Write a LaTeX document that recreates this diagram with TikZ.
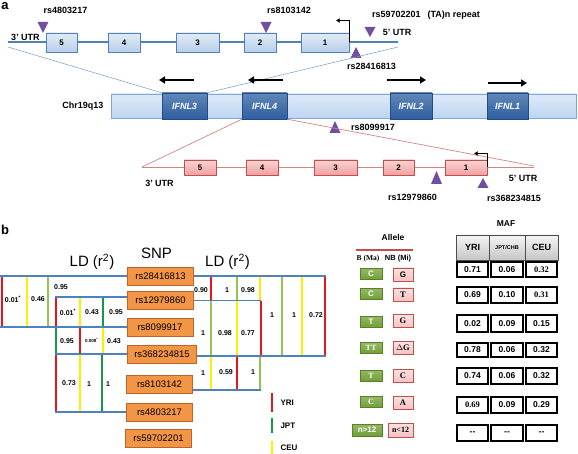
\documentclass[tikz,border=0pt]{standalone}
\usepackage{fontspec}
\setmainfont{Liberation Sans}
\newfontfamily\tnr{Liberation Serif}
\usetikzlibrary{calc, shapes, backgrounds, arrows.meta}
\definecolor{genblue}{RGB}{79,129,189}
\definecolor{exonfill}{RGB}{184,206,234}
\definecolor{chromfill}{RGB}{190,213,242}
\definecolor{ifnlblue}{RGB}{45,95,160}
\definecolor{pinkfill}{RGB}{242,160,160}
\definecolor{pinkedge}{RGB}{192,80,77}
\definecolor{snppurple}{RGB}{112,78,160}
\definecolor{snporange}{RGB}{242,150,70}
\definecolor{snpedge}{RGB}{190,100,40}
\definecolor{majorgreen}{RGB}{112,160,52}
\definecolor{yricol}{RGB}{232,20,30}
\definecolor{jptcol}{RGB}{25,150,70}
\definecolor{limecol}{RGB}{145,198,80}
\definecolor{ceucol}{RGB}{255,238,0}

\begin{document}
\begin{tikzpicture}[x=1pt, y=-1pt, font=\bfseries\fontsize{9}{10}\selectfont]
	\tikzstyle{exon}=[rectangle, draw=genblue, thin, top color=white!60!exonfill,
	bottom color=exonfill, minimum height=19pt, inner sep=0pt,
	font=\bfseries\fontsize{8}{9}\selectfont]
	\tikzstyle{pexon}=[rectangle, draw=pinkedge, thin, top color=white!55!pinkfill,
	bottom color=pinkfill, minimum height=15pt, inner sep=0pt,
	font=\bfseries\fontsize{8}{9}\selectfont]
	\tikzstyle{chrom}=[rectangle, draw=genblue!70, thin, top color=white!50!chromfill,
	bottom color=chromfill, minimum width=465pt, minimum height=24pt]
	\tikzstyle{ifnl}=[rectangle, draw=ifnlblue!80!black, thin, top color=ifnlblue!75,
	bottom color=ifnlblue, text=white, minimum height=26pt, inner sep=0pt,
	font=\bfseries\itshape\fontsize{9}{10}\selectfont]
	\tikzstyle{geneline}=[line width=1.8pt, genblue]
	\tikzstyle{pinkline}=[line width=0.7pt, pinkedge!70]
	\tikzstyle{zoomline}=[line width=0.5pt]
	\tikzstyle{genearrow}=[line width=2.2pt, -{Triangle[length=6pt,width=7pt]}]
	\tikzstyle{tss}=[line width=1.1pt, -{Triangle[length=3.5pt,width=4.5pt]}]
	\tikzstyle{marker}=[fill=snppurple]
	\tikzstyle{snp}=[rectangle, draw=snpedge, fill=snporange, line width=0.8pt,
	minimum width=66pt, minimum height=18pt, inner xsep=7pt,
	font=\normalfont\fontsize{9.5}{10}\selectfont]
	\tikzstyle{ldline}=[line width=1.5pt, genblue]
	\tikzstyle{yri}=[line width=2.4pt, yricol]
	\tikzstyle{jpt}=[line width=2.4pt, jptcol]
	\tikzstyle{jptl}=[line width=2.4pt, limecol]
	\tikzstyle{ceu}=[line width=2.4pt, ceucol]
	\tikzstyle{ld}=[inner sep=0pt, font=\bfseries\fontsize{7}{8}\selectfont]
	\tikzstyle{major}=[rectangle, draw=majorgreen!80!black, top color=majorgreen!75,
	bottom color=majorgreen, text=white, minimum width=22pt, minimum height=11pt,
	inner sep=0pt, font=\bfseries\fontsize{8}{9}\selectfont]
	\tikzstyle{minor}=[rectangle, draw=pinkedge, thin, top color=white!70!pinkfill,
	bottom color=white!35!pinkfill, minimum width=20pt, minimum height=13pt,
	inner sep=0pt, font=\bfseries\fontsize{8}{9}\selectfont]
	\tikzstyle{mafhead}=[rectangle, draw=gray!60!black, thin, top color=gray!8,
	bottom color=gray!45, minimum height=25pt, inner sep=0pt]
	\tikzstyle{maf}=[rectangle, draw, line width=1.2pt, fill=white, minimum height=15pt,
	inner sep=0pt, font=\bfseries\fontsize{8.5}{9}\selectfont]
	
	\useasboundingbox (0,0) rectangle (578,454);
	
	% panel a
	\node[font=\bfseries\fontsize{13}{13}\selectfont] at (5,6.5) (pa) {a};
	\draw[geneline] (8,42) -- (398,42);
	\node[exon, minimum width=31pt] at (61.5,42.5) (ex5) {5};
	\node[exon, minimum width=32pt] at (124,42.5) (ex4) {4};
	\node[exon, minimum width=43pt] at (197.5,42.5) (ex3) {3};
	\node[exon, minimum width=32pt] at (260,42.5) (ex2) {2};
	\node[exon, minimum width=48pt] at (325,42.5) (ex1) {1};
	\draw[tss] (ex1.east) |- ++(-13,-22);
	\node at (25.5,37) (utr3top) {3' UTR};
	\node at (397,32) (utr5top) {5' UTR};
	\fill[marker] (43,33) -- (37.5,22) -- (48.5,22) -- cycle;
	\fill[marker] (266,33) -- (260.5,22) -- (271.5,22) -- cycle;
	\fill[marker] (370,37) -- (364.5,27) -- (375.5,27) -- cycle;
	\fill[marker] (356,47) -- (350.5,58) -- (361.5,58) -- cycle;
	\node at (65.5,10) (lab4803) {rs4803217};
	\node at (289,10) (lab8103) {rs8103142};
	\node at (426,15) (labta) {rs59702201\hspace{7pt}(TA)n repeat};
	\node at (371.5,66) (lab2841) {rs28416813};
	
	\node[chrom] at (343.5,106) (chr) {};
	\node[ifnl, minimum width=45pt] at (184.5,106) (ifnl3) {IFNL3};
	\node[ifnl, minimum width=45pt] at (264.5,106) (ifnl4) {IFNL4};
	\node[ifnl, minimum width=42pt] at (411,106) (ifnl2) {IFNL2};
	\node[ifnl, minimum width=41pt] at (507.5,106) (ifnl1) {IFNL1};
	\node[anchor=east] at (107,106) (chrlab) {Chr19q13};
	\coordinate (topL) at (8,47);
	\coordinate (topR) at (398,47);
	\draw[zoomline, genblue!80] (ifnl3.north west) -- (topL);
	\draw[zoomline, genblue!80] (ifnl3.north east) -- (topR);
	\draw[genearrow] (194,80) -- (159,80);
	\draw[genearrow] (283,80) -- (248,80);
	\draw[genearrow] (387,80) -- (426,80);
	\draw[genearrow] (488,83) -- (527,83);
	\fill[marker] (335,121) -- (329.5,133) -- (340.5,133) -- cycle;
	\node at (373,127) (lab8099) {rs8099917};
	
	\coordinate (botL) at (142,167);
	\coordinate (botR) at (534,166);
	\draw[pinkline] (ifnl4.south west) -- (botL);
	\draw[pinkline] (ifnl4.south east) -- (botR);
	\draw[pinkline] (botL) -- (534,167);
	\node[pexon, minimum width=32pt] at (200,167.5) (pex5) {5};
	\node[pexon, minimum width=31.5pt] at (262,167.5) (pex4) {4};
	\node[pexon, minimum width=43pt] at (335.5,167.5) (pex3) {3};
	\node[pexon, minimum width=31pt] at (398.5,167.5) (pex2) {2};
	\node[pexon, minimum width=42pt] at (466,167.5) (pex1) {1};
	\draw[tss] (pex1.east) |- ++(-13,-14);
	\node at (159.5,183) (utr3bot) {3' UTR};
	\node at (523,178) (utr5bot) {5' UTR};
	\fill[marker] (436.5,171) -- (431,184) -- (442,184) -- cycle;
	\fill[marker] (483,178) -- (477.5,188) -- (488.5,188) -- cycle;
	\node at (412.5,197) (lab1297) {rs12979860};
	\node at (514,198) (lab3682) {rs368234815};
	
	% panel b
	\node[font=\bfseries\fontsize{13}{13}\selectfont] at (5,230) (pb) {b};
	\node[font=\normalfont\fontsize{15}{16}\selectfont] at (92,262) (ldleft) {LD (r\textsuperscript{2})};
	\node[font=\normalfont\fontsize{15}{16}\selectfont] at (156.5,253) (snphead) {SNP};
	\node[font=\normalfont\fontsize{15}{16}\selectfont] at (227.5,262) (ldright) {LD (r\textsuperscript{2})};
	
	\node[snp] at (160.5,276) (snp1) {rs28416813};
	\node[snp] at (160.5,300.5) (snp2) {rs12979860};
	\node[snp] at (160,327) (snp3) {rs8099917};
	\node[snp] at (162,354) (snp4) {rs368234815};
	\node[snp] at (159.5,384) (snp5) {rs8103142};
	\node[snp] at (159.5,412) (snp6) {rs4803217};
	\node[snp] at (158.5,438.5) (snp7) {rs59702201};
	
	% left LD
	\coordinate (ldL) at (0,0);
	\coordinate (ldM) at (55,0);
	\draw[yri] (2,276) -- (2,327);
	\draw[ceu] (27,276) -- (27,327);
	\draw[jptl] (48,276) -- (48,327);
	\draw[yri] (56,297) -- (56,327);
	\draw[ceu] (80,297) -- (80,327);
	\draw[jpt] (103,297) -- (103,327);
	\draw[jpt] (56,327) -- (56,354);
	\draw[yri] (80,327) -- (80,354);
	\draw[ceu] (103,327) -- (103,354);
	\draw[yri] (56,354) -- (56,412);
	\draw[ceu] (80,354) -- (80,412);
	\draw[jpt] (102,354) -- (102,412);
	\draw[ldline] (snp1.west) -- (snp1.west -| ldL);
	\draw[ldline] (snp3.west) -- (snp3.west -| ldL);
	\draw[ldline] ([yshift=3.5pt]snp2.west) -- ([yshift=3.5pt]snp2.west -| ldM);
	\draw[ldline] (snp4.west) -- (snp4.west -| ldM);
	\draw[ldline] (snp6.west) -- (snp6.west -| ldM);
	\node[ld] at (13,299) (v1) {0.01\textsuperscript{*}};
	\node[ld] at (38,299) (v2) {0.46};
	\node[ld] at (61,287) (v3) {0.95};
	\node[ld] at (68,312) (v4) {0.01\textsuperscript{*}};
	\node[ld] at (92,312) (v5) {0.43};
	\node[ld] at (116,312) (v6) {0.95};
	\node[ld] at (67,341) (v7) {0.95};
	\node[ld, font=\bfseries\fontsize{4.5}{5}\selectfont] at (91.5,340) (v8) {0.008\textsuperscript{*}};
	\node[ld] at (114,341) (v9) {0.43};
	\node[ld] at (69,383) (v10) {0.73};
	\node[ld] at (89,384) (v11) {1};
	\node[ld] at (108,384) (v12) {1};
	
	% right LD
	\coordinate (ldR) at (326,0);
	\coordinate (ldS) at (261,0);
	\draw[yri] (211,276) -- (211,301);
	\draw[jptl] (237,276) -- (237,301);
	\draw[ceu] (260,276) -- (260,301);
	\draw[jptl] (211,301) -- (211,356);
	\draw[ceu] (237,301) -- (237,356);
	\draw[yri] (261,301) -- (261,356);
	\draw[jptl] (282,276) -- (282,356);
	\draw[ceu] (302,276) -- (302,356);
	\draw[yri] (325,276) -- (325,356);
	\draw[ceu] (211,356) -- (211,390);
	\draw[yri] (237,356) -- (237,390);
	\draw[jptl] (260,356) -- (260,390);
	\draw[ldline] (snp1.east) -- (snp1.east -| ldR);
	\draw[ldline] (snp2.east) -- (snp2.east -| ldS);
	\draw[ldline] ([yshift=-2pt]snp4.east) -- ([yshift=-2pt]snp4.east -| ldR);
	\draw[ldline] ([yshift=-6pt]snp5.east) -- ([yshift=-6pt]snp5.east -| ldS);
	\node[ld] at (201,290) (w1) {0.90};
	\node[ld] at (227,290) (w2) {1};
	\node[ld] at (248,290) (w3) {0.98};
	\node[ld] at (203,333) (w4) {1};
	\node[ld] at (225,333) (w5) {0.98};
	\node[ld] at (248,333) (w6) {0.77};
	\node[ld] at (272,315) (w7) {1};
	\node[ld] at (294,315) (w8) {1};
	\node[ld] at (316,315) (w9) {0.72};
	\node[ld] at (203,373) (w10) {1};
	\node[ld] at (226,372) (w11) {0.59};
	\node[ld] at (253,372) (w12) {1};
	
	% legend
	\draw[yri] (272,393) -- (272,412);
	\draw[jpt] (272,418) -- (272,433);
	\draw[ceu] (272,441) -- (272,454);
	\node[anchor=west, font=\bfseries\fontsize{8}{9}\selectfont] at (277,403) (legyri) {YRI};
	\node[anchor=west, font=\bfseries\fontsize{8}{9}\selectfont] at (277,426) (legjpt) {JPT};
	\node[anchor=west, font=\bfseries\fontsize{8}{9}\selectfont] at (277,448) (legceu) {CEU};
	
	% alleles
	\node[font=\bfseries\fontsize{8.5}{9}\selectfont] at (393,237) (allele) {Allele};
	\draw[line width=1.6pt, pinkedge] (356,250) -- (413,250);
	\node[font=\tnr\bfseries\fontsize{7.5}{8}\selectfont] at (368,259) (bma) {B (Ma)};
	\node[font=\bfseries\fontsize{7.5}{8}\selectfont] at (398,259) (nbmi) {NB (Mi)};
	\node[major] at (371,274) (b1) {C};
	\node[major] at (371,294) (b2) {C};
	\node[major] at (371,321.5) (b3) {T};
	\node[major, font=\tnr\bfseries\fontsize{8}{9}\selectfont] at (371,348) (b4) {TT};
	\node[major, font=\tnr\bfseries\fontsize{8}{9}\selectfont] at (371,375.5) (b5) {T};
	\node[major, font=\tnr\bfseries\fontsize{8}{9}\selectfont] at (371,402) (b6) {C};
	\node[major, minimum width=30pt, minimum height=12pt] at (367,430) (b7) {n>12};
	\node[minor] at (403,274.5) (nb1) {G};
	\node[minor, font=\tnr\bfseries\fontsize{8.5}{9}\selectfont] at (403,294.5) (nb2) {T};
	\node[minor, font=\tnr\bfseries\fontsize{8.5}{9}\selectfont] at (403,321) (nb3) {G};
	\node[minor, font=\tnr\bfseries\fontsize{8.5}{9}\selectfont] at (403,348) (nb4) {$\Delta$G};
	\node[minor, font=\tnr\bfseries\fontsize{8.5}{9}\selectfont] at (403,375.5) (nb5) {C};
	\node[minor, font=\tnr\bfseries\fontsize{8.5}{9}\selectfont] at (403,402.5) (nb6) {A};
	\node[minor, minimum width=25pt, minimum height=14pt, font=\tnr\bfseries\fontsize{8}{9}\selectfont] at (400.5,430) (nb7) {n<12};
	
	% MAF table
	\node[font=\bfseries\fontsize{8.5}{9}\selectfont] at (506,224) (maf) {MAF};
	\node[mafhead, minimum width=33pt, font=\bfseries\fontsize{9}{10}\selectfont] at (472.5,247.5) (hyri) {YRI};
	\node[mafhead, minimum width=36pt, font=\bfseries\fontsize{5.5}{6}\selectfont] at (507,247.5) (hjpt) {JPT/CHB};
	\node[mafhead, minimum width=33pt, font=\bfseries\fontsize{9}{10}\selectfont] at (541.5,247.5) (hceu) {CEU};
	
	\node[maf, minimum width=31pt] at (472.5,269.5) (m11) {0.71};
	\node[maf, minimum width=32pt] at (507,269.5) (m12) {0.06};
	\node[maf, minimum width=31pt, font=\tnr\bfseries\fontsize{8.5}{9}\selectfont] at (541.5,269.5) (m13) {0.32};
	\node[maf, minimum width=31pt, minimum height=16pt] at (472.5,295) (m21) {0.69};
	\node[maf, minimum width=32pt, minimum height=16pt] at (507,295) (m22) {0.10};
	\node[maf, minimum width=31pt, minimum height=16pt, font=\tnr\bfseries\fontsize{8.5}{9}\selectfont] at (541.5,295) (m23) {0.31};
	\node[maf, minimum width=31pt, minimum height=17pt] at (472.5,323.5) (m31) {0.02};
	\node[maf, minimum width=32pt, minimum height=17pt] at (507,323.5) (m32) {0.09};
	\node[maf, minimum width=31pt, minimum height=17pt] at (541.5,323.5) (m33) {0.15};
	\node[maf, minimum width=31pt, minimum height=14pt] at (472.5,350) (m41) {0.78};
	\node[maf, minimum width=32pt, minimum height=14pt] at (507,350) (m42) {0.06};
	\node[maf, minimum width=31pt, minimum height=14pt] at (541.5,350) (m43) {0.32};
	\node[maf, minimum width=31pt, minimum height=16pt] at (472.5,376) (m51) {0.74};
	\node[maf, minimum width=32pt, minimum height=16pt] at (507,376) (m52) {0.06};
	\node[maf, minimum width=31pt, minimum height=16pt] at (541.5,376) (m53) {0.32};
	\node[maf, minimum width=31pt, minimum height=16pt, font=\tnr\bfseries\fontsize{8.5}{9}\selectfont] at (472.5,405) (m61) {0.69};
	\node[maf, minimum width=32pt, minimum height=16pt] at (507,405) (m62) {0.09};
	\node[maf, minimum width=31pt, minimum height=16pt] at (541.5,405) (m63) {0.29};
	\node[maf, minimum width=31pt, minimum height=16pt] at (472.5,433) (m71) {-{}-};
	\node[maf, minimum width=32pt, minimum height=16pt] at (507,433) (m72) {-{}-};
	\node[maf, minimum width=31pt, minimum height=16pt] at (541.5,433) (m73) {-{}-};
	
\end{tikzpicture}
\end{document}
